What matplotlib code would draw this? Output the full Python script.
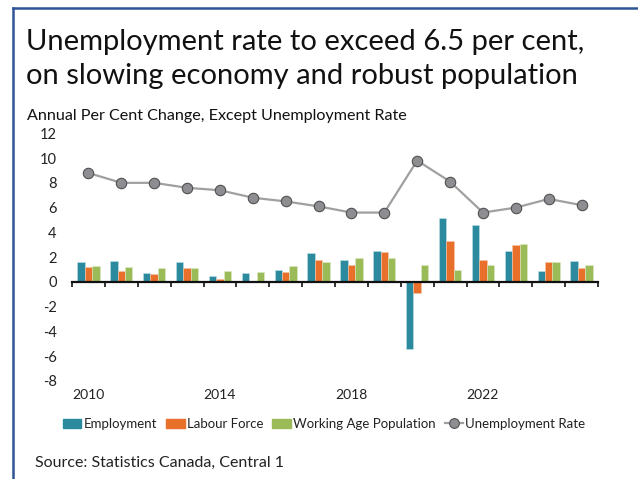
import numpy as np
import matplotlib
matplotlib.use("Agg")
import matplotlib.pyplot as plt
from matplotlib.lines import Line2D
from matplotlib.patches import Patch

plt.rcParams['font.family'] = ['Lato', 'DejaVu Sans']
plt.rcParams['axes.unicode_minus'] = False

years = list(range(2010, 2026))
employment = [1.6, 1.7, 0.7, 1.6, 0.5, 0.7, 1.0, 2.3, 1.8, 2.5, -5.4, 5.2, 4.6, 2.5, 0.9, 1.7]
labour_force = [1.2, 0.9, 0.6, 1.1, 0.2, 0.0, 0.8, 1.8, 1.4, 2.4, -0.9, 3.3, 1.8, 3.0, 1.6, 1.1]
working_age = [1.3, 1.2, 1.1, 1.1, 0.9, 0.8, 1.3, 1.6, 1.9, 1.9, 1.4, 1.0, 1.4, 3.1, 1.6, 1.4]
unemp_rate = [8.8, 8.0, 8.0, 7.6, 7.4, 6.8, 6.5, 6.1, 5.6, 5.6, 9.8, 8.1, 5.6, 6.0, 6.7, 6.2]
year_labels = ['2010', '2014', '2018', '2022']

c_emp = '#2B8A9E'
c_lab = '#E8702A'
c_wap = '#9BBB59'
c_line = '#A0A0A0'

fig = plt.figure(figsize=(6.38, 4.79), dpi=100)
ax = fig.add_axes([72 / 638, 98 / 479, 526 / 638, 247.7 / 479])

x = np.arange(len(years))
w = 0.225
ax.bar(x - w, employment, w, color=c_emp, edgecolor='#BFE0E8', linewidth=0.4)
ax.bar(x, labour_force, w, color=c_lab, edgecolor='#F5C6A8', linewidth=0.4)
ax.bar(x + w, working_age, w, color=c_wap, edgecolor='#DCE9C4', linewidth=0.4)
ax.plot(x, unemp_rate, color=c_line, lw=1.6, marker='o', markersize=7.5,
        markerfacecolor='#8E8E92', markeredgecolor='#505050', markeredgewidth=0.8, zorder=5)

ax.set_xlim(-0.5, len(years) - 0.5)
ax.set_ylim(-8, 12)
ax.set_yticks(range(-8, 13, 2))
ax.tick_params(axis='y', length=0, labelsize=10.5, colors='#222222', pad=11)
for s in ['top', 'right', 'left']:
    ax.spines[s].set_visible(False)
ax.spines['bottom'].set_position(('data', 0))
ax.spines['bottom'].set_linewidth(1.6)
ax.spines['bottom'].set_color('#111111')
ax.set_xticks(np.arange(-0.5, len(years), 1))
ax.set_xticklabels([])
ax.tick_params(axis='x', length=3.5, width=1.2, color='#111111', direction='out')

sec = ax.secondary_xaxis(-0.01)
sec.set_xticks([years.index(int(y)) for y in year_labels])
sec.set_xticklabels(year_labels)
sec.tick_params(length=0, labelsize=10, colors='#222222', pad=4)
sec.spines['bottom'].set_visible(False)

handles = [Patch(color=c_emp), Patch(color=c_lab), Patch(color=c_wap),
           Line2D([], [], color=c_line, lw=1.6, marker='o', markersize=7,
                  markerfacecolor='#8E8E92', markeredgecolor='#505050', markeredgewidth=0.8)]
labels = ['Employment', 'Labour Force', 'Working Age Population', 'Unemployment Rate']
fig.legend(handles, labels, loc='center', bbox_to_anchor=(324 / 638, 1 - 424 / 479), ncol=4,
           frameon=False, fontsize=9.5, handlelength=1.4, handletextpad=0.15, columnspacing=0.7,
           labelcolor='#222222')

fig.text(26 / 638, 1 - 42 / 479, 'Unemployment rate to exceed 6.5 per cent,', fontsize=21,
         va='center', ha='left', color='#111111')
fig.text(26 / 638, 1 - 76 / 479, 'on slowing economy and robust population', fontsize=21,
         va='center', ha='left', color='#111111')
fig.text(27 / 638, 1 - 116 / 479, 'Annual Per Cent Change, Except Unemployment Rate', fontsize=11.6,
         va='center', ha='left', color='#111111')
fig.text(35 / 638, 1 - 463 / 479, 'Source: Statistics Canada, Central 1', fontsize=11.5,
         va='center', ha='left', color='#222222')

# frame lines on the left and top
fig.add_artist(Line2D([13 / 638, 13 / 638], [0, 1 - 8 / 479], color='#2F5597', lw=1.8))
fig.add_artist(Line2D([13 / 638, 1], [1 - 8 / 479, 1 - 8 / 479], color='#2F5597', lw=1.8))

fig.savefig('out.png', dpi=100)
